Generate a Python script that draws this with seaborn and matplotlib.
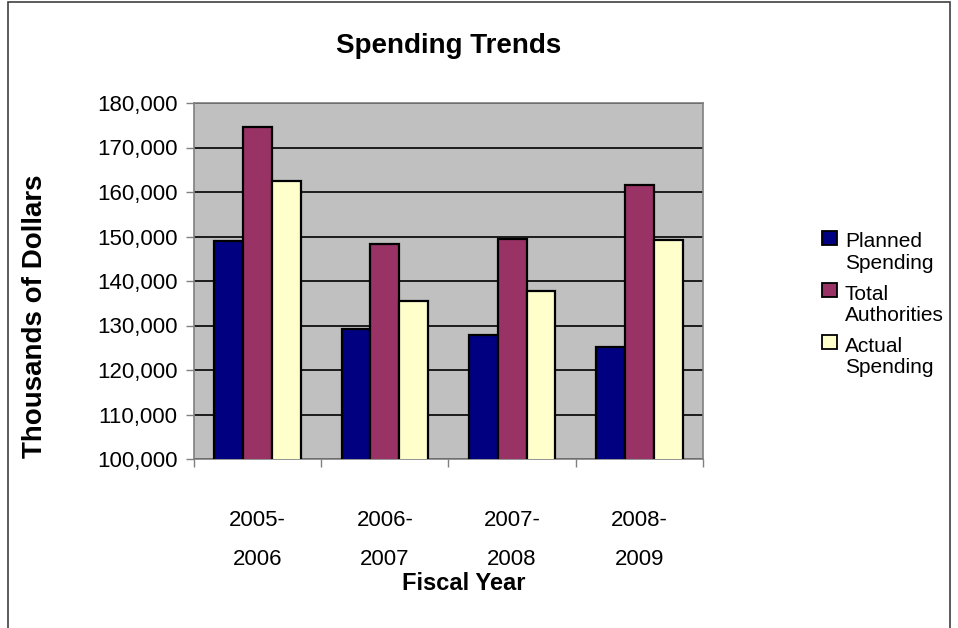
import matplotlib
matplotlib.use("Agg")
import matplotlib.pyplot as plt
import matplotlib.patches as mpatches
from matplotlib.legend_handler import HandlerPatch
from matplotlib.ticker import FuncFormatter, FixedLocator
import seaborn as sns
import pandas as pd

years = ["2005-\n2006", "2006-\n2007", "2007-\n2008", "2008-\n2009"]
planned = [149000, 129200, 127800, 125200]
total = [174500, 148400, 149400, 161500]
actual = [162400, 135500, 137700, 149300]
series_names = ["Planned\nSpending", "Total\nAuthorities", "Actual\nSpending"]
colors = ["#000080", "#993366", "#FFFFCC"]

rows = []
for name, vals in zip(series_names, [planned, total, actual]):
    for y, v in zip(years, vals):
        rows.append({"year": y, "series": name, "value": v})
df = pd.DataFrame(rows)

sns.set_theme(style="white", rc={"text.color": "black", "axes.labelcolor": "black",
                                 "xtick.color": "black", "ytick.color": "black"})
plt.rcParams["font.family"] = ["Liberation Sans", "DejaVu Sans"]

fig = plt.figure(figsize=(9.58, 6.28), dpi=100)
ax = fig.add_axes([194/958, 1-459/628, (703-194)/958, (459-103)/628])
ax.set_facecolor("#C0C0C0")

sns.barplot(data=df, x="year", y="value", hue="series", palette=colors,
            width=0.68, edgecolor="black", linewidth=1.6, ax=ax,
            saturation=1, errorbar=None, zorder=3)

ax.set_ylim(100000, 180000)
ax.set_xlim(-0.5, 3.5)
ax.yaxis.set_major_locator(FixedLocator(range(100000, 180001, 10000)))
ax.yaxis.set_major_formatter(FuncFormatter(lambda v, p: f"{int(v):,}"))
ax.grid(axis="y", color="black", linewidth=1.2, zorder=0)
ax.set_axisbelow(True)

ax.tick_params(axis="y", which="major", direction="out", length=6, width=1,
               color="#808080", labelsize=16, pad=6, left=True, labelcolor="black")
ax.tick_params(axis="x", which="major", length=0, labelsize=16, pad=37, labelcolor="black")
ax.set_xticks([0.5 * i - 0.5 for i in range(0, 9, 2)], minor=True)
ax.tick_params(axis="x", which="minor", direction="out", length=6, width=1,
               color="#808080", bottom=True)
for lbl in ax.get_xticklabels():
    lbl.set_linespacing(2.07)

for s in ax.spines.values():
    s.set_color("#808080")
    s.set_linewidth(1.2)

ax.set_xlabel("")
ax.set_ylabel("")
fig.text(464/958, 1-583/628, "Fiscal Year", fontsize=17, fontweight="bold",
         ha="center", va="center")
fig.text(35/958, 1-316/628, "Thousands of Dollars", fontsize=20, fontweight="bold",
         ha="center", va="center", rotation=90)
fig.text(449/958, 1-46/628, "Spending Trends", fontsize=20,
         fontweight="bold", ha="center", va="center")


class TopHandler(HandlerPatch):
    def create_artists(self, legend, orig_handle, xdescent, ydescent, width,
                       height, fontsize, trans):
        shift = 0.72 * fontsize
        p = mpatches.Rectangle((-xdescent, -ydescent + shift), width, height,
                               facecolor=orig_handle.get_facecolor(),
                               edgecolor="black", linewidth=1.3)
        p.set_transform(trans)
        return [p]


handles, labels = ax.get_legend_handles_labels()
leg = ax.legend(handles, labels, loc="upper left", bbox_to_anchor=(812/958, 1-222/628),
                bbox_transform=fig.transFigure, frameon=False, fontsize=15,
                handlelength=0.68, handleheight=0.68, handletextpad=0.4,
                labelspacing=0.55, borderpad=0,
                handler_map={mpatches.Rectangle: TopHandler()})
for t in leg.get_texts():
    t.set_linespacing(1.18)

fig.patches.append(mpatches.Rectangle((8/958, -0.01), (950-8)/958, 1.0-2/628+0.01,
                                      transform=fig.transFigure, fill=False,
                                      edgecolor="#404040", linewidth=1.2))

fig.savefig("out.png", dpi=100)
